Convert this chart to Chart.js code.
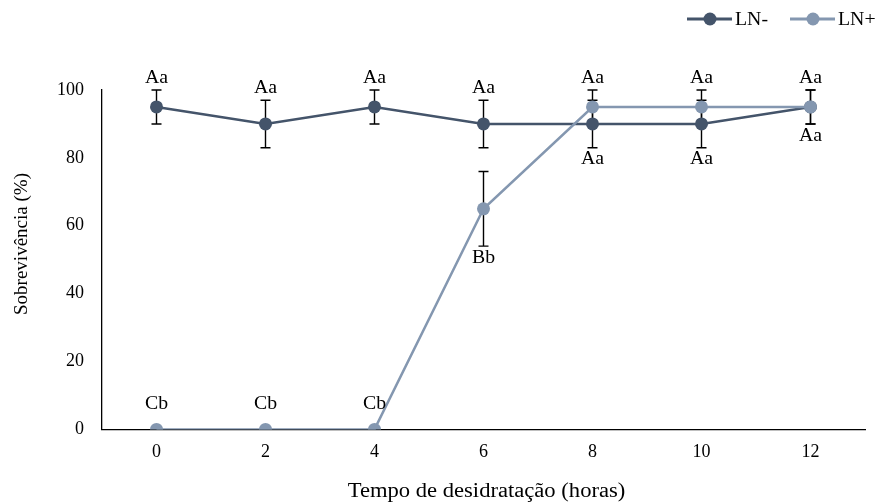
<!DOCTYPE html>
<html>
<head>
<meta charset="utf-8">
<script src="https://cdn.jsdelivr.net/npm/chart.js@4.4.1/dist/chart.umd.min.js"></script>
<style>
  html, body { margin: 0; padding: 0; background: #fff; }
  #wrap { width: 880px; height: 503px; }
</style>
</head>
<body>
<div id="wrap"><canvas id="chart"></canvas></div>
<script>
// donnees
const categories = ['0', '2', '4', '6', '8', '10', '12'];
const lnMinus = [95, 90, 95, 90, 90, 90, 95];
const lnMinusErr = [5, 7, 5, 7, 7, 7, 5];
const lnMinusLetters = ['Aa', 'Aa', 'Aa', 'Aa', 'Aa', 'Aa', 'Aa'];
const lnMinusSide = ['up', 'up', 'up', 'up', 'down', 'down', 'down'];
const lnPlus = [0, 0, 0, 65, 95, 95, 95];
const lnPlusErr = [0, 0, 0, 11, 5, 5, 5];
const lnPlusLetters = ['Cb', 'Cb', 'Cb', 'Bb', 'Aa', 'Aa', 'Aa'];
const lnPlusSide = ['up', 'up', 'up', 'down', 'up', 'up', 'up'];
const yTicks = [0, 20, 40, 60, 80, 100];
const xTitle = 'Tempo de desidratação (horas)';
const yTitle = 'Sobrevivência (%)';

const FONT = "'Liberation Serif', 'Times New Roman', serif";
const DARK = '#44546A';
const LIGHT = '#8497B0';

const errors = [lnMinusErr, lnPlusErr];
const letters = [lnMinusLetters, lnPlusLetters];
const sides = [lnMinusSide, lnPlusSide];

// texte un peu etire en largeur, comme dans l'original
function wideText(ctx, txt, x, y, sx) {
  ctx.save();
  ctx.translate(x, y);
  ctx.scale(sx, 1);
  ctx.fillText(txt, 0, 0);
  ctx.restore();
}

const errorBars = {
  id: 'errorBars',
  // barres d'erreur sous les marqueurs
  beforeDatasetsDraw(chart) {
    const ctx = chart.ctx;
    const y = chart.scales.y;
    ctx.save();
    ctx.strokeStyle = '#000';
    ctx.lineWidth = 1.4;
    chart.data.datasets.forEach((ds, di) => {
      const meta = chart.getDatasetMeta(di);
      meta.data.forEach((pt, i) => {
        const e = errors[di][i];
        if (!e) return;
        const top = y.getPixelForValue(ds.data[i] + e);
        const bot = y.getPixelForValue(ds.data[i] - e);
        ctx.beginPath();
        ctx.moveTo(pt.x, top); ctx.lineTo(pt.x, bot);
        ctx.moveTo(pt.x - 5, top); ctx.lineTo(pt.x + 5, top);
        ctx.moveTo(pt.x - 5, bot); ctx.lineTo(pt.x + 5, bot);
        ctx.stroke();
      });
    });
    ctx.restore();
  },
  afterDraw(chart) {
    const ctx = chart.ctx;
    const y = chart.scales.y;
    const area = chart.chartArea;
    ctx.save();
    ctx.fillStyle = '#000';
    ctx.font = '18px ' + FONT;
    ctx.textAlign = 'center';
    ctx.textBaseline = 'middle';
    chart.data.datasets.forEach((ds, di) => {
      const meta = chart.getDatasetMeta(di);
      meta.data.forEach((pt, i) => {
        const e = errors[di][i];
        const errPx = Math.abs(y.getPixelForValue(ds.data[i] + e) - pt.y);
        const off = Math.max(errPx, 13) + 12;
        const ty = sides[di][i] === 'up' ? pt.y - off : pt.y + off;
        wideText(ctx, letters[di][i], pt.x, ty, 1.1);
      });
    });

    // titres des axes
    ctx.font = '20px ' + FONT;
    wideText(ctx, xTitle, (area.left + area.right) / 2 + 3, area.bottom + 62, 1.13);
    ctx.save();
    ctx.translate(22, 244);
    ctx.rotate(-Math.PI / 2);
    ctx.font = '19px ' + FONT;
    ctx.fillText(yTitle, 0, 0);
    ctx.restore();

    // legende en haut a droite
    const items = [[DARK, 'LN-', 687], [LIGHT, 'LN+', 790]];
    ctx.textAlign = 'left';
    ctx.font = '18px ' + FONT;
    items.forEach(([c, txt, x0]) => {
      ctx.strokeStyle = c;
      ctx.lineWidth = 3;
      ctx.beginPath();
      ctx.moveTo(x0, 19); ctx.lineTo(x0 + 45, 19);
      ctx.stroke();
      ctx.fillStyle = c;
      ctx.beginPath();
      ctx.arc(x0 + 23, 19, 6.5, 0, Math.PI * 2);
      ctx.fill();
      ctx.fillStyle = '#000';
      wideText(ctx, txt, x0 + 48, 20, 1.1);
    });
    ctx.restore();
  }
};

const ctx = document.getElementById('chart').getContext('2d');
new Chart(ctx, {
  type: 'line',
  data: {
    labels: categories,
    datasets: [
      {
        label: 'LN-',
        data: lnMinus,
        order: 1,
        borderColor: DARK,
        backgroundColor: DARK,
        borderWidth: 2.5,
        pointRadius: 6.5,
        pointBorderWidth: 0,
        pointHoverRadius: 6.5
      },
      {
        label: 'LN+',
        data: lnPlus,
        order: 0,
        borderColor: LIGHT,
        backgroundColor: LIGHT,
        borderWidth: 2.5,
        pointRadius: 6.5,
        pointBorderWidth: 0,
        pointHoverRadius: 6.5
      }
    ]
  },
  options: {
    responsive: true,
    maintainAspectRatio: false,
    animation: false,
    layout: { padding: { top: 90, right: 15, left: 39, bottom: 28 } },
    scales: {
      x: {
        offset: true,
        grid: { display: false, drawTicks: false },
        border: { color: '#000', width: 1.3 },
        ticks: { color: '#000', font: { family: FONT, size: 18 }, padding: 12 }
      },
      y: {
        min: 0,
        max: 100,
        afterBuildTicks: (axis) => { axis.ticks = yTicks.map(v => ({ value: v })); },
        grid: { display: false, drawTicks: false },
        border: { color: '#000', width: 1.3 },
        ticks: { color: '#000', font: { family: FONT, size: 18 }, padding: 18 }
      }
    },
    plugins: {
      legend: { display: false },
      tooltip: { enabled: false }
    }
  },
  plugins: [errorBars]
});
</script>
</body>
</html>
